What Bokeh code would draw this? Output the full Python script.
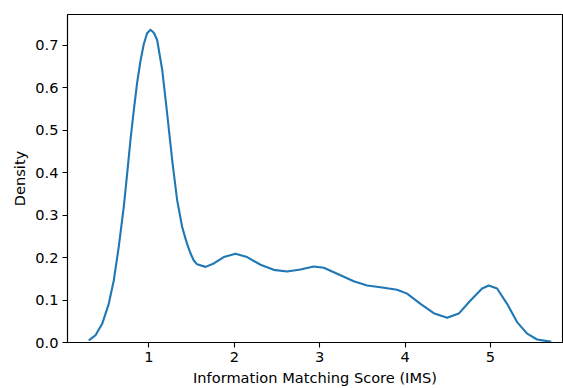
from bokeh.plotting import figure
from bokeh.models import Range1d, FixedTicker, NumeralTickFormatter
from bokeh.embed import file_html
from bokeh.resources import INLINE

# KDE curve of Information Matching Score
ims = [0.303, 0.374, 0.452, 0.529, 0.588, 0.646, 0.705, 0.745, 0.783, 0.822,
       0.862, 0.900, 0.939, 0.978, 1.018, 1.057, 1.096, 1.155, 1.213, 1.272,
       1.330, 1.389, 1.427, 1.447, 1.486, 1.525, 1.564, 1.662, 1.759, 1.876,
       2.013, 2.150, 2.306, 2.461, 2.618, 2.774, 2.930, 3.047, 3.204, 3.398,
       3.555, 3.711, 3.906, 4.023, 4.180, 4.335, 4.492, 4.628, 4.765, 4.902,
       4.979, 5.077, 5.194, 5.311, 5.429, 5.546, 5.701]
density = [0.006, 0.017, 0.044, 0.091, 0.146, 0.225, 0.319, 0.398, 0.476, 0.546,
           0.612, 0.662, 0.702, 0.728, 0.736, 0.729, 0.712, 0.642, 0.539, 0.429,
           0.335, 0.272, 0.245, 0.232, 0.210, 0.193, 0.184, 0.178, 0.186, 0.201,
           0.209, 0.201, 0.183, 0.171, 0.167, 0.172, 0.179, 0.176, 0.162, 0.144,
           0.134, 0.130, 0.124, 0.115, 0.091, 0.069, 0.058, 0.068, 0.099, 0.127,
           0.134, 0.127, 0.091, 0.048, 0.021, 0.007, 0.002]
x_ticks = [1, 2, 3, 4, 5]
y_ticks = [0.0, 0.1, 0.2, 0.3, 0.4, 0.5, 0.6, 0.7]

FONT = "DejaVu Sans"
FS = "14.6px"

p = figure(width=563, height=388, output_backend="svg", toolbar_location=None,
           x_range=Range1d(0.046, 5.843), y_range=Range1d(0, 0.772),
           min_border_left=67, min_border_right=1, min_border_top=14,
           min_border_bottom=46)

p.line(ims, density, line_color="#1f77b4", line_width=2.1,
       line_join="round", line_cap="round")

p.xgrid.visible = False
p.ygrid.visible = False
p.outline_line_color = "black"
p.outline_line_width = 1.1
p.background_fill_color = "white"
p.border_fill_color = "white"

p.xaxis.ticker = FixedTicker(ticks=x_ticks)
p.yaxis.ticker = FixedTicker(ticks=y_ticks)
p.yaxis.formatter = NumeralTickFormatter(format="0.0")
p.xaxis.axis_label = "Information Matching Score (IMS)"
p.yaxis.axis_label = "Density"

for ax in (p.xaxis[0], p.yaxis[0]):
    ax.major_tick_in = 0
    ax.major_tick_out = 5
    ax.minor_tick_in = 0
    ax.minor_tick_out = 0
    ax.axis_line_color = "black"
    ax.axis_line_width = 1.1
    ax.major_tick_line_width = 1.1
    ax.major_tick_line_color = "black"
    ax.major_label_text_font = FONT
    ax.major_label_text_font_size = FS
    ax.major_label_text_color = "black"
    ax.axis_label_text_font = FONT
    ax.axis_label_text_font_size = FS
    ax.axis_label_text_font_style = "normal"
    ax.axis_label_text_color = "black"
    ax.major_label_standoff = 4
    ax.axis_label_standoff = 4

open("out.html", "w").write(file_html(p, INLINE))
